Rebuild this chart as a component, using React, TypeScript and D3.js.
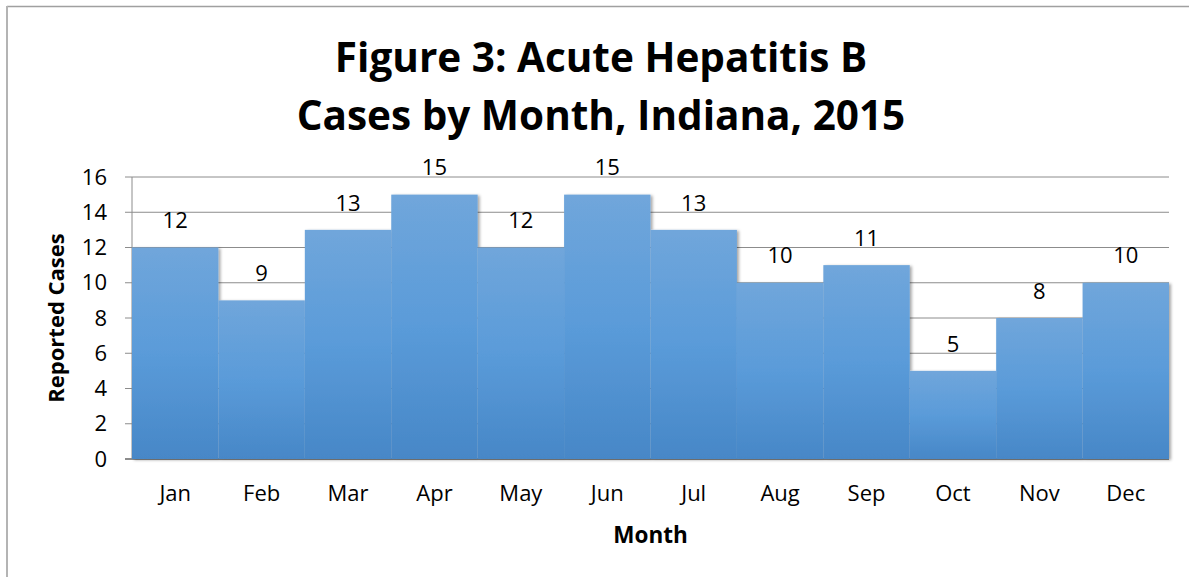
import * as d3 from "d3";

const months = ["Jan", "Feb", "Mar", "Apr", "May", "Jun", "Jul", "Aug", "Sep", "Oct", "Nov", "Dec"];
const cases = [12, 9, 13, 15, 12, 15, 13, 10, 11, 5, 8, 10];
const yTicks = [0, 2, 4, 6, 8, 10, 12, 14, 16];
const titleLines = ["Figure 3: Acute Hepatitis B", "Cases by Month, Indiana, 2015"];

const W = 1189;
const H = 577;
const FONT = "'Open Sans', 'Liberation Sans', sans-serif";

export default function App() {
    const left = 132;
    const right = 1169;
    const top = 177;
    const bottom = 459;

    const x = d3.scaleBand().domain(months).range([left, right]).padding(0);
    const y = d3.scaleLinear().domain([0, 16]).range([bottom, top]);

    return (
        <svg width={W} height={H} style={{ position: "absolute", left: 0, top: 0 }} fontFamily={FONT}>
            <defs>
                <linearGradient id="barGrad" x1="0" y1="0" x2="0" y2="1">
                    <stop offset="0%" stopColor="#70a6db" />
                    <stop offset="50%" stopColor="#5a9bd9" />
                    <stop offset="100%" stopColor="#4787c7" />
                </linearGradient>
                <filter id="shadow" x="-10%" y="-10%" width="130%" height="130%">
                    <feDropShadow dx="2" dy="1" stdDeviation="1.5" floodColor="#000" floodOpacity="0.35" />
                </filter>
            </defs>
            <rect x={0} y={0} width={W} height={H} fill="#fff" />
            {/* outer frame: only top and left edges are in view */}
            <line x1={7} x2={W} y1={6.5} y2={6.5} stroke="#a0a0a0" strokeWidth={1.5} />
            <line x1={7} x2={7} y1={6} y2={H} stroke="#b4b4b4" strokeWidth={2} />

            {titleLines.map((t, i) => (
                <text key={t} x={601} y={72 + i * 58} textAnchor="middle" fontSize={40.5} fontWeight="bold" fill="#000">
                    {t}
                </text>
            ))}

            {/* gridlines + y ticks */}
            {yTicks.map((t) => (
                <g key={t}>
                    <line x1={left - 7} x2={right} y1={y(t)} y2={y(t)}
                        stroke="#8c8c8c" strokeWidth={t === 0 ? 2 : 1} />
                    <text x={left - 25} y={y(t)} dy="0.35em" textAnchor="end" fontSize={22} fill="#000">{t}</text>
                </g>
            ))}
            <line x1={left} x2={left} y1={top} y2={bottom} stroke="#8c8c8c" strokeWidth={1} />

            {/* bars */}
            <g filter="url(#shadow)">
                {cases.map((v, i) => (
                    <rect key={months[i]} x={x(months[i])!} y={y(v)} width={x.bandwidth()} height={bottom - y(v)}
                        fill="url(#barGrad)" />
                ))}
            </g>

            {/* value labels */}
            {cases.map((v, i) => (
                <text key={"l" + i} x={x(months[i])! + x.bandwidth() / 2} y={y(v) - 27} dy="0.35em" textAnchor="middle"
                    fontSize={22} fill="#000">{v}</text>
            ))}

            {/* month labels */}
            {months.map((m) => (
                <text key={m} x={x(m)! + x.bandwidth() / 2} y={493} dy="0.35em" textAnchor="middle" fontSize={22} fill="#000">{m}</text>
            ))}

            <text x={(left + right) / 2} y={543} textAnchor="middle" fontSize={22.5} fontWeight="bold" fill="#000">Month</text>
            <text transform={`translate(56,${(top + bottom) / 2}) rotate(-90)`} dy="0.35em" textAnchor="middle"
                fontSize={22} fontWeight="bold" fill="#000">Reported Cases</text>
        </svg>
    );
}
